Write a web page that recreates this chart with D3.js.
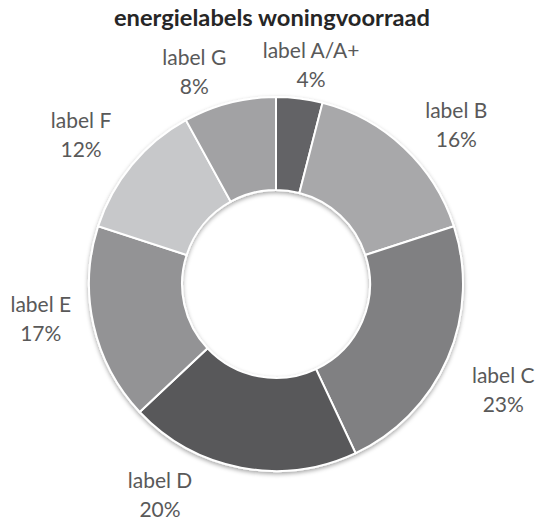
<!DOCTYPE html>
<html>
<head>
<meta charset="utf-8">
<script src="https://cdn.jsdelivr.net/npm/d3@7"></script>
<style>
	body { margin: 0; background: #fff; }
	text { font-family: Lato, "Open Sans", sans-serif; }
</style>
</head>
<body>
<div id="chart"></div>
<script>
// data
const categories = ["label A/A+", "label B", "label C", "label D", "label E", "label F", "label G"];
const shares = [4, 16, 23, 20, 17, 12, 8];
const greys = ["#646466", "#a8a8aa", "#808082", "#58585a", "#939395", "#c7c8ca", "#a2a2a4"];

const title = "energielabels woningvoorraad";

class DonutChart {

	constructor(locationName, width, height) {
		let self = this;
		this.locationName = locationName;
		this.width = width;
		this.height = height;

		//centre and ring size
		this.cx = 276;
		this.cy = 284;
		this.outer = 187;
		this.inner = 94;
		this.labelRadius = 240;

		//labels were dragged around a bit in the original, small shifts per slice
		this.labelNudge = [[5, 19], [16, 16], [7, 11], [-71, -25], [-1, -17], [-10, 4], [-22, 20]];

		this.color = d3.scaleOrdinal().domain(categories).range(greys);

		this.arc = d3.arc()
			.outerRadius(self.outer)
			.innerRadius(self.inner);

		this.labelArc = d3.arc()
			.outerRadius(self.labelRadius)
			.innerRadius(self.labelRadius);

		this.pie = d3.pie()
			.sort(null)
			.value(function(d) { return d.value; });

		this.initGraph();
	}

	initGraph() {
		let self = this;

		this.svg = d3.select(self.locationName).append("svg")
			.attr("width", self.width)
			.attr("height", self.height);

		//soft shadow under the ring
		let defs = this.svg.append("defs");
		defs.append("filter")
			.attr("id", "shade")
			.attr("x", "-20%").attr("y", "-20%")
			.attr("width", "140%").attr("height", "140%")
			.append("feDropShadow")
			.attr("dx", 0)
			.attr("dy", 2)
			.attr("stdDeviation", 2)
			.attr("flood-color", "#000")
			.attr("flood-opacity", 0.35);

		//title
		this.svg.append("text")
			.attr("x", 272)
			.attr("y", 26)
			.attr("text-anchor", "middle")
			.attr("font-size", "23.7px")
			.attr("font-weight", "bold")
			.attr("fill", "#262626")
			.text(title);

		let data = categories.map(function(c, i) { return {key: c, value: shares[i]}; });

		let ring = this.svg.append("g")
			.attr("transform", "translate(" + self.cx + "," + self.cy + ")")
			.attr("filter", "url(#shade)");

		ring.selectAll(".arc")
			.data(self.pie(data))
			.enter().append("path")
			.attr("class", "arc")
			.attr("d", self.arc)
			.style("fill", function(d) { return self.color(d.data.key); })
			.style("stroke", "#fff")
			.style("stroke-width", 2);

		//labels outside the ring
		let labels = this.svg.append("g")
			.attr("transform", "translate(" + self.cx + "," + self.cy + ")");

		let lab = labels.selectAll(".lab")
			.data(self.pie(data))
			.enter().append("text")
			.attr("class", "lab")
			.attr("text-anchor", "middle")
			.attr("font-size", "21px")
			.attr("fill", "#595959")
			.attr("transform", function(d, i) {
				let c = self.labelArc.centroid(d);
				let n = self.labelNudge[i];
				return "translate(" + (c[0] + n[0]) + "," + (c[1] + n[1] - 7) + ")";
			});

		lab.append("tspan")
			.attr("x", 0)
			.attr("y", 0)
			.text(function(d) { return d.data.key; });

		lab.append("tspan")
			.attr("x", 0)
			.attr("y", 29)
			.text(function(d) { return d.data.value + "%"; });
	}
}

new DonutChart("#chart", 538, 520);
</script>
</body>
</html>
